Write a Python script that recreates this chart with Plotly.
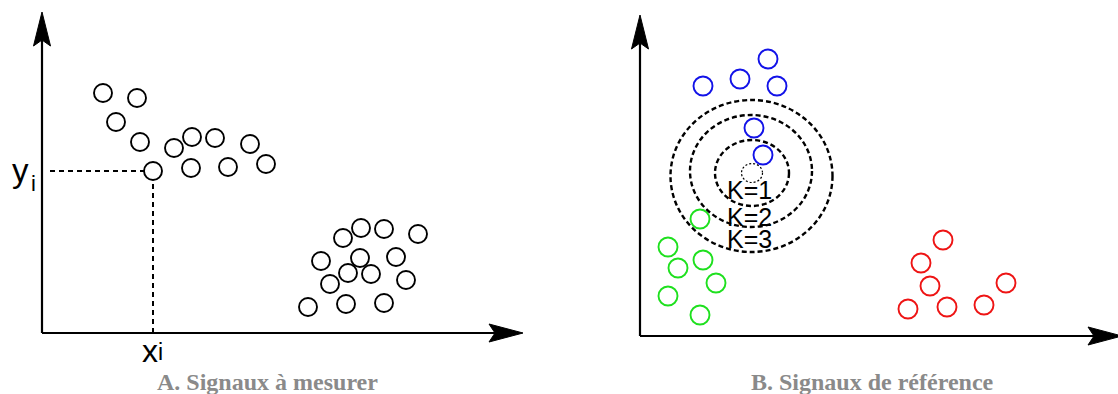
import plotly.graph_objects as go

# panel A: points to measure (offsets from the axis origin)
meas_x = [61, 95, 74, 98, 132, 150, 173, 208, 111, 149, 186, 224,
          301, 319, 342, 376, 279, 318, 354, 306, 329, 288, 364, 266, 304, 342]
meas_y = [240, 235, 211, 191, 185, 196, 195, 189, 162, 165, 166, 169,
          95, 105, 104, 99, 72, 75, 76, 60, 59, 49, 53, 26, 29, 30]
pick_x, pick_y = 111, 162  # the (xi, yi) point

# panel B: reference signals by class
blue_x = [63, 100, 128, 137, 114, 123]
blue_y = [250, 257, 277, 250, 208, 181]
green_x = [60, 28, 63, 38, 76, 28, 60]
green_y = [117, 89, 76, 68, 53, 40, 21]
red_x = [303, 281, 290, 366, 268, 307, 344]
red_y = [96, 73, 50, 53, 27, 29, 31]
query_x, query_y = 112, 163
k_labels = ["K=1", "K=2", "K=3"]
k_label_y = [146, 119, 97]
# neighbourhood rings: (dx, dy, rx, ry)
rings = [(0, 0, 37, 33), (-1, 2, 61, 56), (-0.5, -3, 81, 76)]

W, H = 1118, 394
fig = go.Figure()

def circles(x, y, color, xa, ya, size=18):
    fig.add_trace(go.Scatter(
        x=x, y=y, mode='markers', xaxis=xa, yaxis=ya, showlegend=False,
        hoverinfo='skip',
        marker=dict(symbol='circle-open', size=size, color=color,
                    line=dict(width=1.9, color=color))))

# dashed guides to xi / yi
fig.add_trace(go.Scatter(x=[8, pick_x - 9], y=[pick_y, pick_y], mode='lines',
                         line=dict(color='black', width=2, dash='5px,4px'),
                         showlegend=False, hoverinfo='skip'))
fig.add_trace(go.Scatter(x=[pick_x, pick_x], y=[0, pick_y - 10], mode='lines',
                         line=dict(color='black', width=2, dash='5px,4px'),
                         showlegend=False, hoverinfo='skip'))
circles(meas_x, meas_y, 'black', 'x', 'y')

circles(blue_x, blue_y, '#1212e8', 'x2', 'y2', size=19)
circles(green_x, green_y, '#1ee01e', 'x2', 'y2', size=19)
circles(red_x, red_y, '#ee1414', 'x2', 'y2', size=19)

shapes = []

def axis_arrows(xr, yr, xlen, ylen):
    shapes.append(dict(type='line', xref=xr, yref=yr, x0=0, y0=0, x1=xlen - 28, y1=0,
                       line=dict(color='black', width=2.2)))
    shapes.append(dict(type='line', xref=xr, yref=yr, x0=0, y0=0, x1=0, y1=ylen - 28,
                       line=dict(color='black', width=2.2)))
    L, T = xlen, ylen
    shapes.append(dict(type='path', xref=xr, yref=yr, fillcolor='black',
                       line=dict(color='black', width=1),
                       path=f'M {L},0 L {L-34},9 L {L-28},0 L {L-34},-9 Z'))
    shapes.append(dict(type='path', xref=xr, yref=yr, fillcolor='black',
                       line=dict(color='black', width=1),
                       path=f'M 0,{T} L -8.5,{T-34} L 0,{T-28} L 8.5,{T-34} Z'))

axis_arrows('x', 'y', 481, 321)
axis_arrows('x2', 'y2', 482, 321)

# K rings around the query point
shapes.append(dict(type='circle', xref='x2', yref='y2',
                   x0=query_x - 10.5, x1=query_x + 10.5,
                   y0=query_y - 9.5, y1=query_y + 9.5,
                   line=dict(color='black', width=1.2, dash='2px,2px')))
for dx, dy, rx, ry in rings:
    cx, cy = query_x + dx, query_y + dy
    shapes.append(dict(type='circle', xref='x2', yref='y2',
                       x0=cx - rx, x1=cx + rx, y0=cy - ry, y1=cy + ry,
                       line=dict(color='black', width=2.4, dash='5px,3px')))

annotations = []
sans = 'Liberation Sans, Arial, sans-serif'
for lab, ly in zip(k_labels, k_label_y):
    annotations.append(dict(xref='x2', yref='y2', x=query_x - 3, y=ly, text=lab,
                            showarrow=False, font=dict(family=sans, size=25, color='black')))

annotations += [
    dict(xref='x', yref='y', x=-22, y=pick_y + 1, text='y', showarrow=False,
         font=dict(family=sans, size=33, color='black')),
    dict(xref='x', yref='y', x=-9, y=pick_y - 12, text='i', showarrow=False,
         font=dict(family=sans, size=22, color='black')),
    dict(xref='x', yref='y', x=pick_x - 3, y=-18, text='x', showarrow=False,
         font=dict(family=sans, size=32, color='black')),
    dict(xref='x', yref='y', x=pick_x + 7, y=-19, text='i', showarrow=False,
         font=dict(family=sans, size=23, color='black')),
]

serif = 'Liberation Serif, Times New Roman, serif'
annotations.append(dict(xref='x', yref='y', x=225, y=-49, text='<b>A. Signaux à mesurer</b>',
                        showarrow=False, font=dict(family=serif, size=24, color='#8a8a8a')))
annotations.append(dict(xref='x2', yref='y2', x=232, y=-46, text='<b>B. Signaux de référence</b>',
                        showarrow=False, font=dict(family=serif, size=24, color='#8a8a8a')))

hidden = dict(visible=False, showgrid=False, zeroline=False, fixedrange=True)
fig.update_layout(
    width=W, height=H,
    margin=dict(l=0, r=0, t=0, b=0),
    paper_bgcolor='white', plot_bgcolor='white',
    xaxis=dict(domain=[0, 560 / W], range=[-42, 518], **hidden),
    yaxis=dict(domain=[0, 1], range=[-61, 333], **hidden),
    xaxis2=dict(domain=[560 / W, 1], range=[-80, 478], anchor='y2', **hidden),
    yaxis2=dict(domain=[0, 1], range=[-58, 336], anchor='x2', **hidden),
    shapes=shapes,
    annotations=annotations,
    showlegend=False,
)

# drop the page's default body margin so the figure sits at the top-left corner
fig.write_html("out.html", config={'displayModeBar': False},
               post_script="document.body.style.margin='0';document.body.style.overflow='hidden';")
